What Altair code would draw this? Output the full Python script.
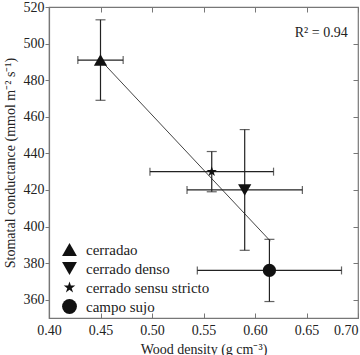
import altair as alt
import pandas as pd

# Site means (wood density vs stomatal conductance) with error bars
sites = ["cerradao", "cerrado denso", "cerrado sensu stricto", "campo sujo"]
density = [0.450, 0.590, 0.558, 0.614]
density_err = [0.022, 0.056, 0.060, 0.070]
conductance = [491, 420, 430, 376]
conductance_err = [22, 33, 11, 17]

# Regression line ends
fit_density = [0.450, 0.615]
fit_conductance = [491, 392]

x_ticks = [0.40, 0.45, 0.50, 0.55, 0.60, 0.65, 0.70]
y_ticks = [360, 380, 400, 420, 440, 460, 480, 500, 520]

# five-pointed star as a custom symbol path (unit square coordinates, drawn
# a little smaller than the other symbols)
STAR = ("M0,-0.82L0.185,-0.253L0.780,-0.253L0.298,0.097L0.482,0.663L0,0.313"
        "L-0.482,0.663L-0.298,0.097L-0.780,-0.253L-0.185,-0.253Z")
shapes = ["triangle-up", "triangle-down", STAR, "circle"]

r2_label = "R\u00b2 = 0.94"

W, H = 309, 311
FONT = "'Liberation Serif', 'Times New Roman', Times, serif"
INK = "#222222"
AXIS = "#777777"

df = pd.DataFrame({
    "site": sites,
    "density": density,
    "density_err": density_err,
    "gs": conductance,
    "gs_err": conductance_err,
})
df["d_lo"] = df["density"] - df["density_err"]
df["d_hi"] = df["density"] + df["density_err"]
df["g_lo"] = df["gs"] - df["gs_err"]
df["g_hi"] = df["gs"] + df["gs_err"]

fit = pd.DataFrame({"density": fit_density, "gs": fit_conductance})

# caps for the vertical and horizontal bars
vcaps = pd.concat([
    pd.DataFrame({"density": df["density"], "gs": df["g_lo"]}),
    pd.DataFrame({"density": df["density"], "gs": df["g_hi"]}),
])
hcaps = pd.concat([
    pd.DataFrame({"density": df["d_lo"], "gs": df["gs"]}),
    pd.DataFrame({"density": df["d_hi"], "gs": df["gs"]}),
])

xscale = alt.Scale(domain=[0.40, 0.70], nice=False, zero=False)
yscale = alt.Scale(domain=[350, 520], nice=False, zero=False)

x_main = alt.Axis(
    orient="bottom", values=x_ticks, format=".2f",
    title="Wood density (g cm\u207b\u00b3)",
    ticks=False, tickSize=0, labelPadding=5, grid=False, titlePadding=5,
    labelAlign=alt.ExprRef(expr="datum.value >= 0.699 ? 'right' : 'center'"),
)
y_main = alt.Axis(
    orient="left", values=y_ticks,
    title="Stomatal conductance (mmol m\u207b\u00b2 s\u207b\u00b9)",
    tickSize=4, labelPadding=1, grid=False, titlePadding=6,
)
# inward ticks along the bottom edge
x_in_bottom = alt.Axis(
    orient="top", offset=-H, values=x_ticks, labels=False, domain=False,
    tickSize=5, grid=False, title=None,
)
# inward ticks along the top edge
x_in_top = alt.Axis(
    orient="bottom", offset=-H, values=x_ticks, labels=False, domain=False,
    tickSize=5, grid=False, title=None,
)
# inward ticks along the right edge
y_in_right = alt.Axis(
    orient="left", offset=-W, values=y_ticks, labels=False, domain=False,
    tickSize=5, grid=False, title=None,
)

line = alt.Chart(fit).mark_line(color="#444444", strokeWidth=1).encode(
    x=alt.X("density:Q", scale=xscale, axis=x_main),
    y=alt.Y("gs:Q", scale=yscale, axis=y_main),
)

xbars = alt.Chart(df).mark_rule(color=INK, strokeWidth=1.2).encode(
    x=alt.X("d_lo:Q", scale=xscale, axis=x_in_bottom),
    x2="d_hi:Q",
    y=alt.Y("gs:Q", scale=yscale, axis=y_in_right),
)

ybars = alt.Chart(df).mark_rule(color=INK, strokeWidth=1.2).encode(
    x=alt.X("density:Q", scale=xscale, axis=x_in_top),
    y=alt.Y("g_lo:Q", scale=yscale, axis=None),
    y2="g_hi:Q",
)

vcap_marks = alt.Chart(vcaps).mark_tick(
    orient="horizontal", size=10, thickness=1.2, color=INK
).encode(
    x=alt.X("density:Q", scale=xscale, axis=None),
    y=alt.Y("gs:Q", scale=yscale, axis=None),
)

hcap_marks = alt.Chart(hcaps).mark_tick(
    orient="vertical", size=8, thickness=1.2, color=INK
).encode(
    x=alt.X("density:Q", scale=xscale, axis=None),
    y=alt.Y("gs:Q", scale=yscale, axis=None),
)

points = alt.Chart(df).mark_point(
    filled=True, color="#111111", opacity=1, size=175
).encode(
    x=alt.X("density:Q", scale=xscale, axis=None),
    y=alt.Y("gs:Q", scale=yscale, axis=None),
    shape=alt.Shape(
        "site:N", scale=alt.Scale(domain=sites, range=shapes),
        legend=alt.Legend(
            title=None, orient="none", legendX=12, legendY=234,
            labelFont=FONT, labelFontSize=15, labelColor=INK,
            symbolFillColor="#111111", symbolStrokeColor="#111111",
            symbolOpacity=1, symbolSize=220, rowPadding=0, labelOffset=8,
        ),
    ),
)

r2_df = pd.DataFrame({"density": [0.69], "gs": [506], "label": [r2_label]})
r2 = alt.Chart(r2_df).mark_text(
    align="right", baseline="middle", font=FONT, fontSize=14, color=INK
).encode(
    x=alt.X("density:Q", scale=xscale, axis=None),
    y=alt.Y("gs:Q", scale=yscale, axis=None),
    text="label:N",
)

chart = alt.layer(
    line, xbars, ybars, vcap_marks, hcap_marks, points, r2
).resolve_axis(
    x="independent", y="independent"
).properties(
    width=W, height=H,
    autosize=alt.AutoSizeParams(type="none"),
    padding={"left": 49, "top": 7, "right": 2, "bottom": 37},
    background="white",
).configure_view(
    stroke=AXIS, strokeWidth=1.2,
).configure_axis(
    labelFont=FONT, labelFontSize=14, labelColor=INK,
    titleFont=FONT, titleFontSize=14, titleFontWeight="normal", titleColor=INK,
    domainColor=AXIS, tickColor=AXIS, domainWidth=1.2, tickWidth=1,
)

chart.save("out.html", embed_options={"renderer": "svg", "actions": False})
